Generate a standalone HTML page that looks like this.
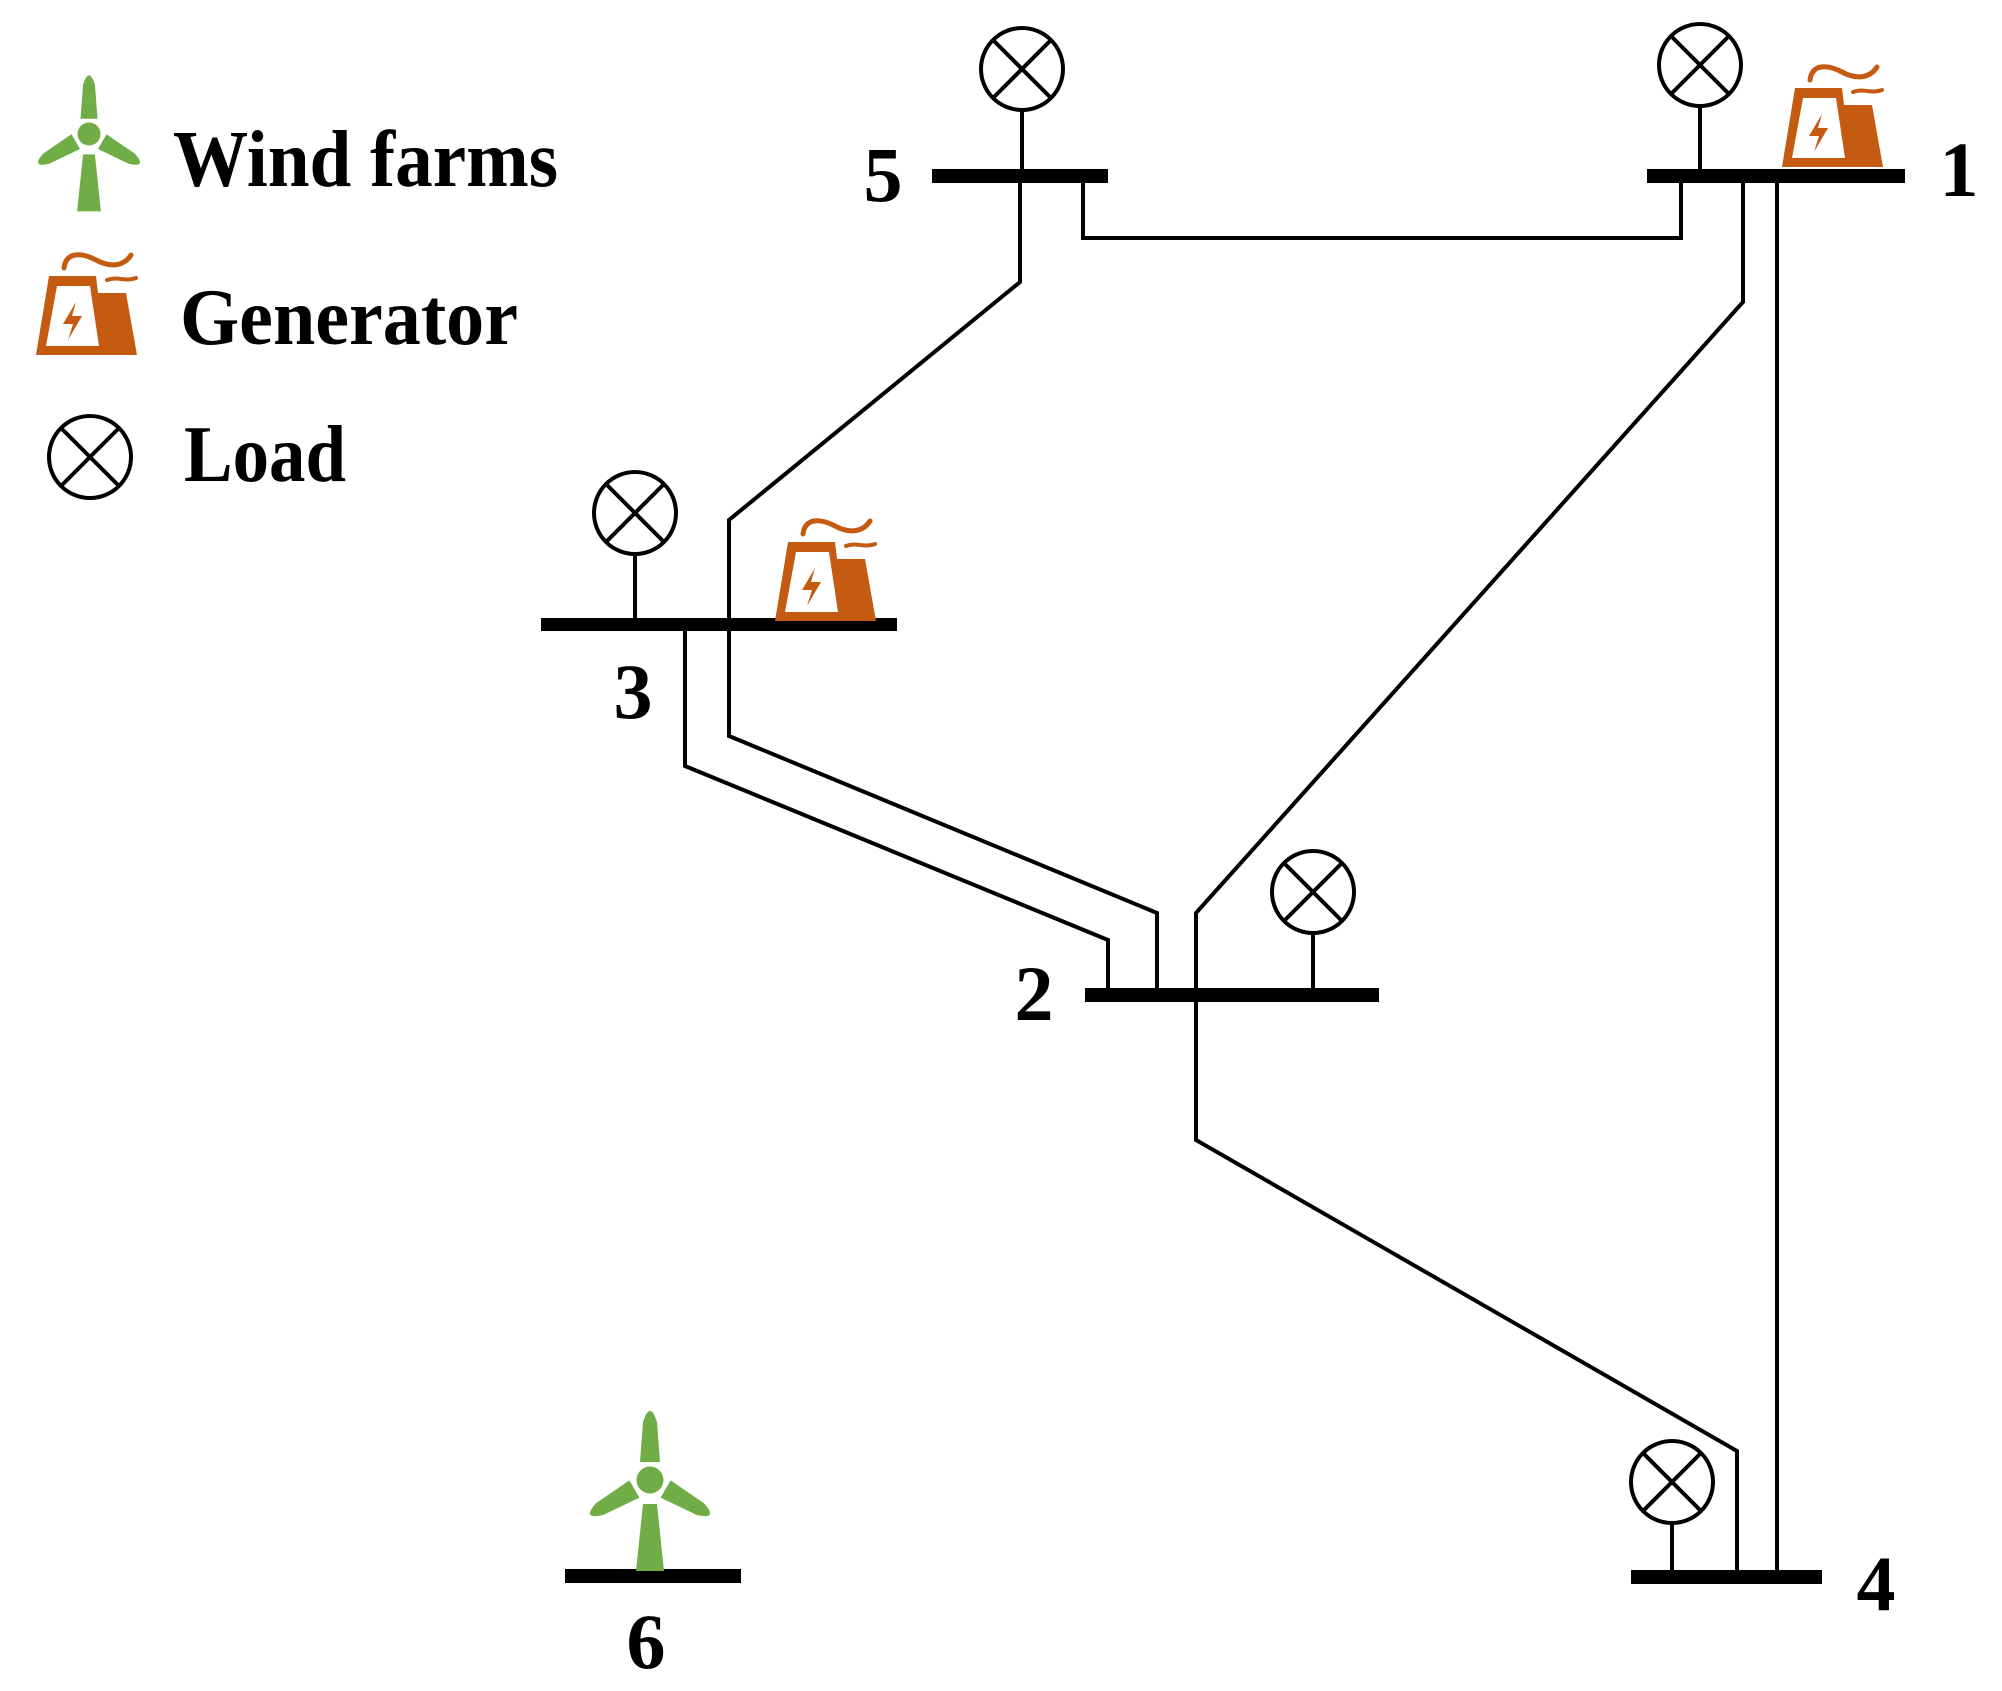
<!DOCTYPE html>
<html><head><meta charset="utf-8"><style>
html,body{margin:0;padding:0;background:#fff;}
svg{display:block;}
text{font-family:"Liberation Serif",serif;font-weight:bold;fill:#000;}
</style></head><body>
<svg width="2002" height="1691" viewBox="0 0 2002 1691" xmlns="http://www.w3.org/2000/svg">
<defs>
<g id="gen">
  <path d="M28,18 C30,2 45,2 60,10 C75,18 88,16 95,5" fill="none" stroke="#C55A11" stroke-width="5" stroke-linecap="round"/>
  <path d="M71,30 C80,26 90,32 100,28" fill="none" stroke="#C55A11" stroke-width="4" stroke-linecap="round"/>
  <path d="M13,26 L60,26 L62,43 L90,43 L101,105 L0,105 Z M21,36 L10,96 L63,96 L54,36 Z" fill="#C55A11" fill-rule="evenodd"/>
  <path d="M40,52 L27,74 L37,74 L32,90 L46,66 L36,66 Z" fill="#C55A11"/>
</g>
<g id="load">
  <circle cx="0" cy="0" r="41" fill="#fff" stroke="#000" stroke-width="4"/>
  <line x1="-29" y1="-29" x2="29" y2="29" stroke="#000" stroke-width="4"/>
  <line x1="-29" y1="29" x2="29" y2="-29" stroke="#000" stroke-width="4"/>
</g>
<g id="blade"><path d="M-10,-18 L-7,-58 Q0,-80 7,-58 L10,-18 Z" fill="#70AD47"/></g>
<g id="turb">
  <use href="#blade"/>
  <use href="#blade" transform="rotate(120)"/>
  <use href="#blade" transform="rotate(240)"/>
  <path d="M-7,24 L7,24 L14,91 L-14,91 Z" fill="#70AD47"/>
  <circle cx="0" cy="0" r="15" fill="#70AD47" stroke="#fff" stroke-width="3"/>
</g>
</defs>

<!-- Legend -->
<use href="#turb" transform="translate(89,134) scale(0.85)"/>
<use href="#gen" transform="translate(36,250)"/>
<use href="#load" transform="translate(90,457)"/>
<text x="173" y="186" font-size="80" textLength="385" lengthAdjust="spacingAndGlyphs">Wind farms</text>
<text x="180" y="344" font-size="80" textLength="338" lengthAdjust="spacingAndGlyphs">Generator</text>
<text x="184" y="481" font-size="80" textLength="162" lengthAdjust="spacingAndGlyphs">Load</text>

<g fill="none" stroke="#000" stroke-width="4">
  <polyline points="1083,176 1083,238 1681,238 1681,176"/>
  <polyline points="1020,176 1020,282 729,520 729,624"/>
  <polyline points="1743,176 1743,302 1196,913 1196,995"/>
  <line x1="1777" y1="176" x2="1777" y2="1576"/>
  <polyline points="685,624 685,766 1108,940 1108,995"/>
  <polyline points="729,624 729,736 1157,913 1157,995"/>
  <polyline points="1196,995 1196,1140 1737,1451 1737,1576"/>
  <line x1="1022" y1="110" x2="1022" y2="176"/>
  <line x1="1700" y1="105" x2="1700" y2="176"/>
  <line x1="635" y1="553" x2="635" y2="624"/>
  <line x1="1313" y1="933" x2="1313" y2="995"/>
  <line x1="1672" y1="1523" x2="1672" y2="1576"/>
</g>

<rect x="932" y="169" width="176" height="14" fill="#000"/>
<rect x="1647" y="169" width="258" height="14" fill="#000"/>
<rect x="541" y="618" width="356" height="13" fill="#000"/>
<rect x="1085" y="988" width="294" height="14" fill="#000"/>
<rect x="1631" y="1570" width="191" height="14" fill="#000"/>
<rect x="565" y="1569" width="176" height="14" fill="#000"/>

<use href="#load" transform="translate(1022,69)"/>
<use href="#load" transform="translate(1700,65)"/>
<use href="#load" transform="translate(635,513)"/>
<use href="#load" transform="translate(1313,892)"/>
<use href="#load" transform="translate(1672,1482)"/>

<use href="#gen" transform="translate(1782,62)"/>
<use href="#gen" transform="translate(775,516)"/>

<use href="#turb" transform="translate(650,1480)"/>

<text x="883" y="201" font-size="78" text-anchor="middle">5</text>
<text x="1959" y="196" font-size="78" text-anchor="middle">1</text>
<text x="633" y="718" font-size="78" text-anchor="middle">3</text>
<text x="1034" y="1020" font-size="78" text-anchor="middle">2</text>
<text x="1876" y="1610" font-size="78" text-anchor="middle">4</text>
<text x="646" y="1668" font-size="78" text-anchor="middle">6</text>
</svg>
</body></html>
